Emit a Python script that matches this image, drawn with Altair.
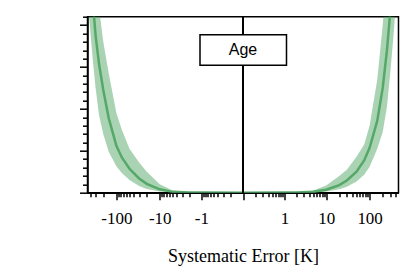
import altair as alt
import pandas as pd

# |x| grid (K) and curve values (y in arbitrary units)
x_abs = [1, 2, 5, 10, 20, 30, 50, 75, 100, 150, 200, 250, 300, 350, 400, 460]
left_mid = [0.002, 0.005, 0.02, 0.08, 0.21, 0.34, 0.57, 0.84, 1.12, 1.78, 2.45, 3.07, 3.75, 4.6, 5.3, 6.1]
left_lo = [0.001, 0.002, 0.008, 0.03, 0.09, 0.16, 0.30, 0.47, 0.63, 0.98, 1.4, 1.85, 2.5, 3.2, 3.9, 4.6]
left_hi = [0.004, 0.01, 0.05, 0.2, 0.5, 0.72, 1.05, 1.5, 1.9, 2.85, 3.6, 4.4, 5.3, 6.2, 7.0, 8.0]
right_mid = [0.002, 0.005, 0.02, 0.07, 0.18, 0.29, 0.50, 0.77, 1.07, 1.72, 2.5, 3.4, 4.35, 5.4, 6.5, 7.8]
right_lo = [0.001, 0.002, 0.008, 0.03, 0.08, 0.14, 0.27, 0.43, 0.62, 1.05, 1.45, 2.05, 2.9, 3.7, 4.45, 5.3]
right_hi = [0.004, 0.01, 0.05, 0.17, 0.4, 0.55, 0.86, 1.15, 1.6, 2.7, 4.0, 5.3, 6.6, 8.0, 9.3, 10.8]

major_x = [-100, -10, -1, 0, 1, 10, 100]
lin_minor = [0.117, 0.232, 0.345, 0.456, 0.568, 0.677, 0.786, 0.894]
dec_minor = [2, 3, 4, 5, 6, 7, 8, 9, 20, 30, 40, 50, 60, 70, 80, 90, 200, 300, 400]
major_y = [0, 1, 2, 3, 4]
minor_y = [0.2, 0.4, 0.6, 0.8, 1.2, 1.4, 1.6, 1.8, 2.2, 2.4, 2.6, 2.8,
           3.2, 3.4, 3.6, 3.8, 4.2]
legend_label = ["Age"]

minor_x = sorted([-v for v in lin_minor + dec_minor] + lin_minor + dec_minor)

rows = []
for a, m, lo, hi in zip(x_abs, left_mid, left_lo, left_hi):
    rows.append({"x": -a, "mid": m, "lo": lo, "hi": hi})
rows.append({"x": 0, "mid": 0.0, "lo": 0.0, "hi": 0.0})
for a, m, lo, hi in zip(x_abs, right_mid, right_lo, right_hi):
    rows.append({"x": a, "mid": m, "lo": lo, "hi": hi})
df = pd.DataFrame(rows).sort_values("x")

XDOM = [-460, 460]
YDOM = [0, 4.2]
xscale = alt.Scale(type="symlog", constant=0.125, domain=XDOM, nice=False, zero=False)
yscale = alt.Scale(domain=YDOM, nice=False, zero=False)

GREEN = "#55a868"
FONT_SERIF = "Liberation Serif"

x_axis = alt.Axis(
    values=major_x,
    labelExpr="datum.value == 0 ? '' : '' + datum.value",
    tickSize=7, tickWidth=1.5, tickColor="black",
    domainWidth=1.5, domainColor="black",
    labelFont=FONT_SERIF, labelFontSize=17, labelColor="black",
    labelPadding=11, labelOverlap=False, labelFlush=False,
    title="Systematic Error [K]", titleFont=FONT_SERIF, titleFontSize=18,
    titleFontWeight="normal", titleColor="black", titlePadding=21,
    grid=False, orient="bottom",
)
y_axis = alt.Axis(
    values=major_y, labels=False, tickSize=8, tickWidth=1.5, tickColor="black",
    domainWidth=1.5, domainColor="black", title=None, grid=False, orient="left",
)

base = alt.Chart(df)
band = base.mark_area(color=GREEN, opacity=0.5, clip=True).encode(
    x=alt.X("x:Q", scale=xscale, axis=x_axis),
    y=alt.Y("lo:Q", scale=yscale, axis=y_axis),
    y2="hi:Q",
)
line = base.mark_line(color=GREEN, strokeWidth=2.5, clip=True).encode(
    x=alt.X("x:Q", scale=xscale),
    y=alt.Y("mid:Q", scale=yscale),
)
zero_rule = base.mark_rule(color="black", strokeWidth=1.5).encode(x=alt.datum(0))

leg_df = pd.DataFrame({"label": legend_label})
leg_box = alt.Chart(leg_df).mark_rect(fill="white", stroke="black", strokeWidth=1.5).encode(
    x=alt.value(112.5), x2=alt.value(199), y=alt.value(18), y2=alt.value(48.5)
)
leg_text = alt.Chart(leg_df).mark_text(
    font="Liberation Sans", fontSize=16, color="black", baseline="alphabetic", align="center"
).encode(x=alt.value(155.5), y=alt.value(38.5), text="label:N")

main = alt.layer(band, line, zero_rule, leg_box, leg_text)

minor = base.mark_point(opacity=0).encode(
    x=alt.X("x:Q", scale=xscale, axis=alt.Axis(
        values=minor_x, labels=False, tickSize=4, tickWidth=1.5, tickColor="black",
        domain=False, grid=False, title=None, orient="bottom")),
    y=alt.Y("mid:Q", scale=yscale, axis=alt.Axis(
        values=minor_y, labels=False, tickSize=5, tickWidth=1.5, tickColor="black",
        domain=False, grid=False, title=None, orient="left")),
)

chart = alt.layer(main, minor).resolve_scale(x="independent", y="independent").properties(
    width=311, height=176,
    padding={"left": 79.5, "top": 8.7, "right": 8, "bottom": 78},
    autosize=alt.AutoSizeParams(type="none"),
).configure_view(stroke="black", strokeWidth=1.5)

chart.save("out.html", embed_options={"renderer": "svg", "actions": False})
